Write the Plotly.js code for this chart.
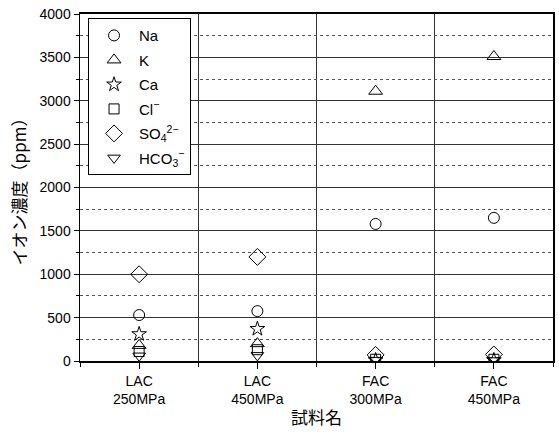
<!DOCTYPE html>
<html>
<head>
<meta charset="utf-8">
<script src="https://cdn.plot.ly/plotly-3.0.1.min.js"></script>
<style>html,body{margin:0;padding:0;background:#fff;}#chart{width:559px;height:434px;}</style>
</head>
<body>
<div id="chart"></div>
<script>
const categories = ["LAC<br>250MPa", "LAC<br>450MPa", "FAC<br>300MPa", "FAC<br>450MPa"];
const seriesNames = ["Na", "K", "Ca", "Cl<sup>−</sup>", "SO<sub>4</sub><sup>2−</sup>", "HCO<sub>3</sub><sup>−</sup>"];
const naValues   = [530, 575, 1580, 1650];
const kValues    = [180, 200, 3110, 3510];
const caValues   = [310, 370, 10, 10];
const clValues   = [110, 130, 20, 20];
const so4Values  = [1000, 1200, 70, 75];
const hco3Values = [60, 65, 10, 5];
const symbols = ["circle-open", "triangle-up-open", "star-open", "square-open", "diamond-open", "triangle-down-open"];
const sizes = [11, 12, 11, 10, 13, 11];

const allValues = [naValues, kValues, caValues, clValues, so4Values, hco3Values];
const xIdx = categories.map((_, i) => i);

const traces = allValues.map((vals, k) => ({
  type: "scatter",
  mode: "markers",
  x: xIdx,
  y: vals,
  name: seriesNames[k],
  legendgroup: "g" + k,
  marker: {symbol: symbols[k], size: sizes[k], color: "#000", line: {color: "#000", width: 1}}
}));

const layout = {
  width: 559, height: 434,
  margin: {l: 80, r: 6, t: 14, b: 73},
  paper_bgcolor: "#fff", plot_bgcolor: "#fff",
  font: {family: "Liberation Sans, Arial, sans-serif", size: 14, color: "#000"},
  showlegend: true,
  legend: {
    x: 0.017, y: 0.988, xanchor: "left", yanchor: "top",
    bordercolor: "#000", borderwidth: 1, bgcolor: "#fff",
    font: {size: 15}, itemwidth: 40, tracegroupgap: 2
  },
  xaxis: {
    range: [-0.5, 3.5],
    tickmode: "array", tickvals: xIdx, ticktext: categories,
    ticks: "outside", ticklen: 6, tickcolor: "#000",
    showgrid: false, zeroline: false,
    showline: true, linecolor: "#000", linewidth: 2, mirror: true,
    minor: {tick0: 0.5, dtick: 1, ticks: "outside", ticklen: 4, tickcolor: "#000", showgrid: true, gridcolor: "#333", gridwidth: 1},
    title: {text: "試料名", font: {family: "Noto Sans CJK JP, sans-serif", size: 17}, standoff: 6}
  },
  yaxis: {
    range: [0, 4000], dtick: 500,
    ticks: "outside", ticklen: 5, tickcolor: "#000",
    showgrid: true, gridcolor: "#333", gridwidth: 1.2,
    zeroline: false,
    showline: true, linecolor: "#000", linewidth: 1.5, mirror: true,
    minor: {dtick: 250, ticks: "outside", ticklen: 3, tickcolor: "#000", showgrid: true, gridcolor: "#555", griddash: "dot", gridwidth: 1},
    title: {text: "イオン濃度（ppm）", font: {family: "Noto Sans CJK JP, sans-serif", size: 17}, standoff: 8}
  }
};

Plotly.newPlot("chart", traces, layout, {displayModeBar: false, staticPlot: true});
</script>
</body>
</html>
